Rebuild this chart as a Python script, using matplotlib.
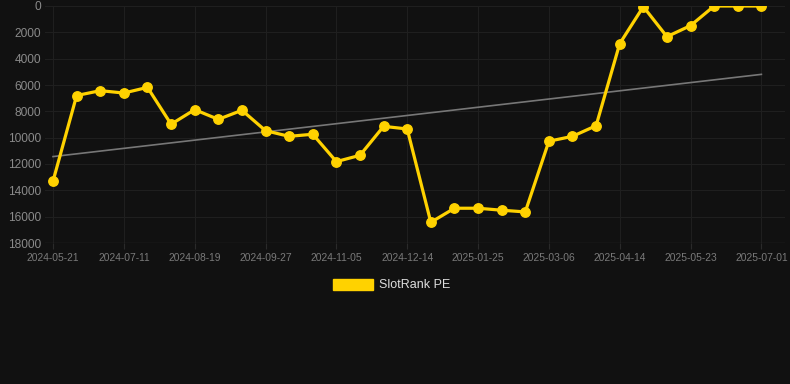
import matplotlib
matplotlib.use("Agg")
import matplotlib.pyplot as plt
from matplotlib.patches import Rectangle
import numpy as np

# rank values (lower is better, axis inverted)
dates = [
    "2024-05-21", "2024-06-07", "2024-06-24", "2024-07-11", "2024-07-24",
    "2024-08-06", "2024-08-19", "2024-09-01", "2024-09-14", "2024-09-27",
    "2024-10-10", "2024-10-23", "2024-11-05", "2024-11-18", "2024-12-01",
    "2024-12-14", "2024-12-28", "2025-01-11", "2025-01-25", "2025-02-07",
    "2025-02-20", "2025-03-06", "2025-03-19", "2025-04-01", "2025-04-14",
    "2025-04-27", "2025-05-10", "2025-05-23", "2025-06-05", "2025-06-18",
    "2025-07-01",
]
ranks = [
    13300, 6800, 6430, 6610, 6180, 8980, 7870, 8610, 7920, 9470,
    9900, 9740, 11820, 11340, 9140, 9340, 16430, 15360, 15360, 15510,
    15640, 10270, 9900, 9090, 2860, 50, 2330, 1490, 1, 1,
    1,
]
series_name = "SlotRank PE"

bg = "#111111"
gold = "#FFD200"
plt.rcParams["font.family"] = ["Liberation Sans", "DejaVu Sans"]

fig = plt.figure(figsize=(7.9, 3.84), dpi=100, facecolor=bg)
ax = fig.add_axes([45 / 790, 1 - 243 / 384, 740 / 790, 237 / 384])
ax.set_facecolor(bg)

x = np.arange(len(ranks))

# linear trend through the points
slope, intercept = np.polyfit(x, ranks, 1)
ax.plot(x, slope * x + intercept, color="#777777", linewidth=1.2, zorder=2)

ax.plot(x, ranks, color=gold, linewidth=2.3, marker="o", markersize=6.8, zorder=3)

ax.set_ylim(18000, 0)
ax.set_xlim(-0.34, 31.0)
ax.set_yticks(range(0, 18001, 2000))
ax.set_xticks(x[::3])
ax.set_xticklabels(dates[::3])

ax.grid(True, color="#1f1f1f", linewidth=0.8)
for s in ax.spines.values():
    s.set_visible(False)
ax.axhline(18000, color="#2a2a2a", linewidth=1)

ax.tick_params(axis="y", length=0, pad=3, labelsize=8.6, labelcolor="#8a8a8a")
ax.tick_params(axis="x", length=4, color="#2a2a2a", pad=3, labelsize=7.4,
               labelcolor="#7a7a7a")

# legend drawn by hand, centred under the plot
fig.patches.append(Rectangle((333 / 790, 1 - 290 / 384), 40 / 790, 11 / 384,
                             transform=fig.transFigure, color=gold))
fig.text(379 / 790, 1 - 285 / 384, series_name, color="#dddddd", fontsize=9,
         va="center", ha="left")

fig.savefig("out.png", dpi=100, facecolor=bg)
